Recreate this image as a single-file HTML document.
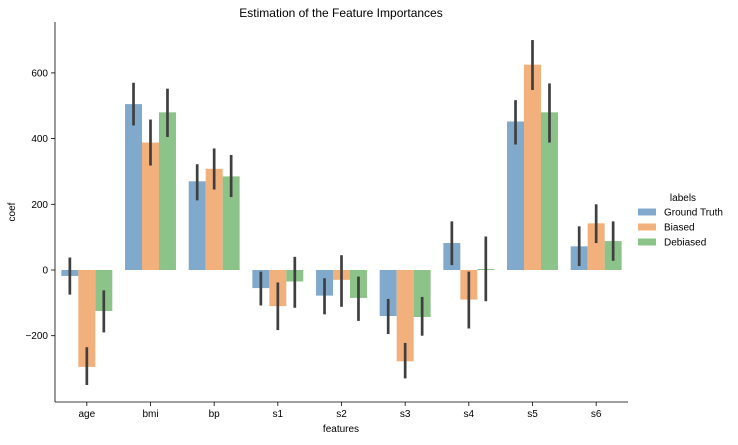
<!DOCTYPE html>
<html><head><meta charset="utf-8"><style>
body{margin:0;background:#fff;font-family:"Liberation Sans","DejaVu Sans",sans-serif;}
svg text{font-family:"Liberation Sans","DejaVu Sans",sans-serif;}
</style></head><body>
<svg id="chart" width="738" height="440" xmlns="http://www.w3.org/2000/svg">
<text x="341" y="17" text-anchor="middle" font-size="12">Estimation of the Feature Importances</text>
<g id="bars"></g>
<g id="axes"></g>
<text x="341" y="432" text-anchor="middle" font-size="10">features</text>
<text transform="translate(15,212) rotate(-90)" text-anchor="middle" font-size="10">coef</text>
<g id="legend"></g>
</svg>
<script>
const categories=["age","bmi","bp","s1","s2","s3","s4","s5","s6"];
const seriesNames=["Ground Truth","Biased","Debiased"];
const groundTruth=[-18,505,270,-55,-78,-140,82,452,72];
const biased=[-295,388,308,-110,-30,-278,-90,625,142];
const debiased=[-125,480,285,-35,-85,-143,3,480,88];
const gtLow=[-75,440,212,-108,-135,-195,15,382,12];
const gtHigh=[38,570,322,-5,-25,-88,148,517,133];
const biLow=[-350,318,245,-183,-112,-330,-178,548,82];
const biHigh=[-235,458,370,-38,45,-222,-5,700,200];
const deLow=[-190,405,222,-115,-155,-200,-95,388,28];
const deHigh=[-62,552,350,40,-20,-82,102,568,148];
const yTicks=[-200,0,200,400,600];

const values=[groundTruth,biased,debiased];
const lows=[gtLow,biLow,deLow], highs=[gtHigh,biHigh,deHigh];
const colors=["#81a9cb","#f2b07c","#8cc388"];
const L=55,R=628,T=22,B=402;
const y=v=>270-v*(65.7/200);
const step=(R-L)/categories.length;
const xc=i=>L+step*(i+0.5);
const bw=step*0.8/3;
const NS="http://www.w3.org/2000/svg";
function mk(tag,attrs,parent){const e=document.createElementNS(NS,tag);for(const k in attrs)e.setAttribute(k,attrs[k]);parent.appendChild(e);return e;}
const bars=document.getElementById('bars'),axes=document.getElementById('axes'),leg=document.getElementById('legend');
categories.forEach((c,i)=>{
  for(let s=0;s<3;s++){
    const v=values[s][i];const x0=xc(i)-1.5*bw+s*bw;
    const r=mk('rect',{x:x0,y:Math.min(y(v),y(0)),width:bw,height:Math.abs(y(v)-y(0)),fill:colors[s]},bars);
    
    
  }
});
categories.forEach((c,i)=>{
  for(let s=0;s<3;s++){
    const xm=xc(i)-1.5*bw+s*bw+bw/2;
    const l=mk('line',{x1:xm,x2:xm,y1:y(lows[s][i]),y2:y(highs[s][i]),stroke:"#3f3f3f","stroke-width":2.7},bars);
    
    
  }
});
mk('line',{x1:L,x2:L,y1:T,y2:B,stroke:"#000","stroke-width":0.8},axes);
mk('line',{x1:L,x2:R,y1:B,y2:B,stroke:"#000","stroke-width":0.8},axes);
yTicks.forEach(t=>{
  mk('line',{x1:L-4,x2:L,y1:y(t),y2:y(t),stroke:"#000","stroke-width":0.8},axes);
  const tx=mk('text',{x:L-7,y:y(t)+3.5,"text-anchor":"end","font-size":10},axes);
  tx.textContent=t<0?"\u2212"+(-t):t;
  
  
});
categories.forEach((c,i)=>{
  mk('line',{x1:xc(i),x2:xc(i),y1:B,y2:B+4,stroke:"#000","stroke-width":0.8},axes);
  const tx=mk('text',{x:xc(i),y:B+15,"text-anchor":"middle","font-size":10},axes);
  tx.textContent=c;
  
  
});
const lt=mk('text',{x:683,y:201,"text-anchor":"middle","font-size":10},leg);
lt.textContent="labels";


seriesNames.forEach((n,s)=>{
  const yy=212+s*15;
  const p=mk('rect',{x:638,y:yy-3.5,width:18,height:7,fill:colors[s]},leg);
  
  
  const t=mk('text',{x:664,y:yy+3.5,"font-size":10},leg);
  t.textContent=n;
  
  
});
</script>
</body></html>
